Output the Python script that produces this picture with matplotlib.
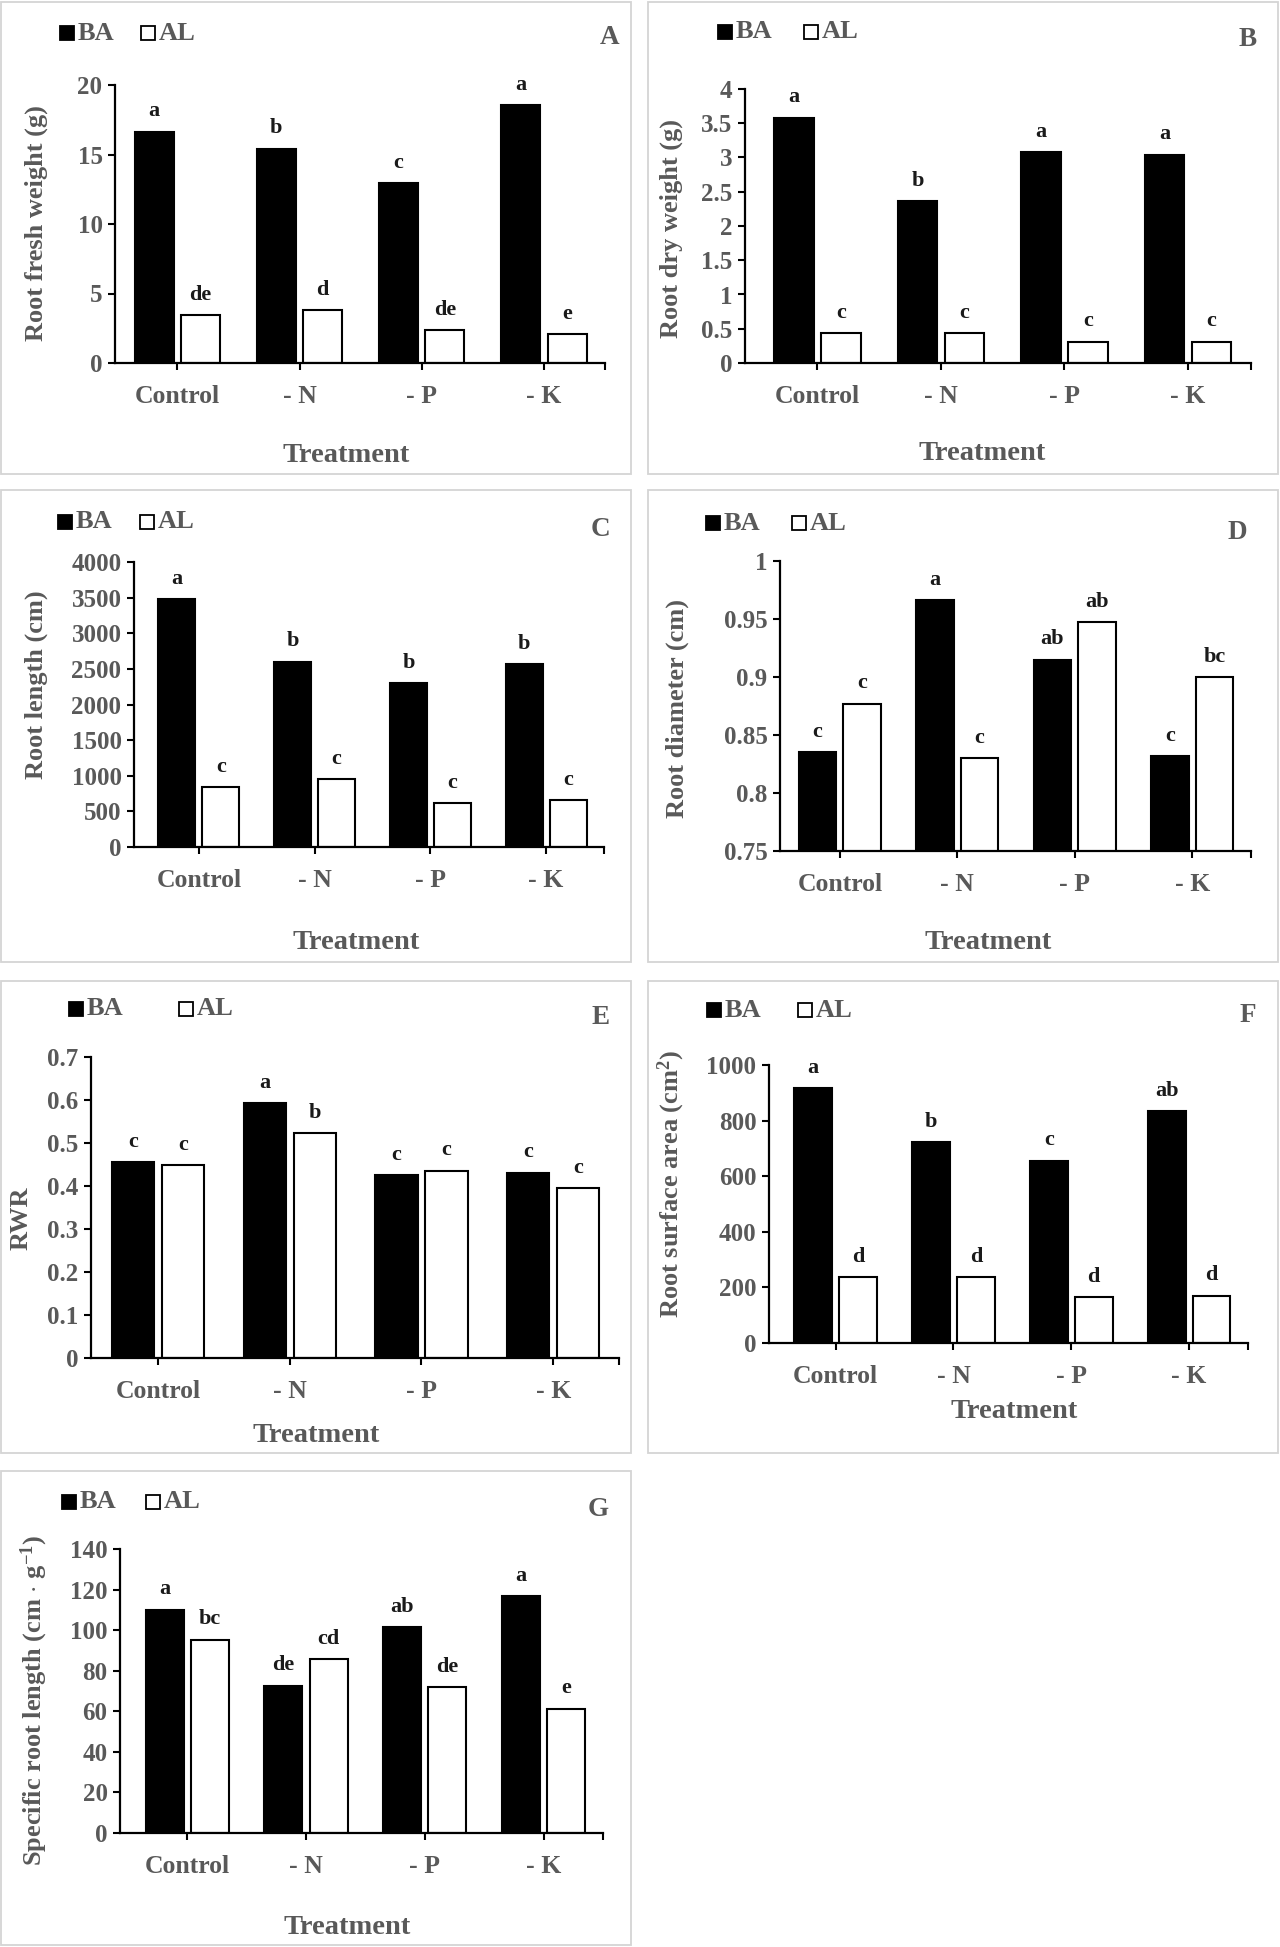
import matplotlib
matplotlib.use("Agg")
import matplotlib.pyplot as plt
from matplotlib.patches import Rectangle
import numpy as np

plt.rcParams['font.family'] = ['Liberation Serif', 'DejaVu Serif']
plt.rcParams['font.weight'] = 'bold'
plt.rcParams['mathtext.fontset'] = 'custom'
plt.rcParams['mathtext.rm'] = 'Liberation Serif:bold'
plt.rcParams['mathtext.bf'] = 'Liberation Serif:bold'
plt.rcParams['mathtext.it'] = 'Liberation Serif:bold:italic'

# ---------------- data ----------------
treatments = ["Control", "- N", "- P", "- K"]
series_names = ["BA", "AL"]

fresh_ba = [16.65, 15.43, 12.94, 18.56]
fresh_al = [3.44, 3.78, 2.39, 2.10]
fresh_ba_sig = ["a", "b", "c", "a"]
fresh_al_sig = ["de", "d", "de", "e"]

dry_ba = [3.58, 2.36, 3.08, 3.04]
dry_al = [0.44, 0.44, 0.31, 0.31]
dry_ba_sig = ["a", "b", "a", "a"]
dry_al_sig = ["c", "c", "c", "c"]

length_ba = [3477, 2600, 2301, 2562]
length_al = [840, 952, 616, 653]
length_ba_sig = ["a", "b", "b", "b"]
length_al_sig = ["c", "c", "c", "c"]

diam_ba = [0.835, 0.966, 0.915, 0.832]
diam_al = [0.877, 0.830, 0.947, 0.900]
diam_ba_sig = ["c", "a", "ab", "c"]
diam_al_sig = ["c", "c", "ab", "bc"]

rwr_ba = [0.456, 0.593, 0.425, 0.431]
rwr_al = [0.449, 0.523, 0.436, 0.395]
rwr_ba_sig = ["c", "a", "c", "c"]
rwr_al_sig = ["c", "b", "c", "c"]

area_ba = [916, 723, 656, 834]
area_al = [237, 237, 164, 170]
area_ba_sig = ["a", "b", "c", "ab"]
area_al_sig = ["d", "d", "d", "d"]

srl_ba = [110.1, 72.6, 101.5, 116.7]
srl_al = [95.3, 85.8, 71.8, 61.3]
srl_ba_sig = ["a", "de", "ab", "a"]
srl_al_sig = ["bc", "cd", "de", "e"]

# ---------------- layout ----------------
W, H = 1280, 1947
fig = plt.figure(figsize=(W / 100, H / 100), dpi=100)
GRAY = '#595959'

def fxy(px, py):
    return px / W, 1 - py / H

panels = [
    dict(tag="A", org=(1, 2), size=(630, 472), ax=(114, 604, 83, 361), xl=(-0.51, 3.5), ylim=(0, 20), step=5,
         ylabel="Root fresh weight (g)", ylpos=(35, 221), leg=(59, 140, 31), tpos=(345, 454), lp=(609, 35),
         ba=fresh_ba, al=fresh_al, bs=fresh_ba_sig, as_=fresh_al_sig),
    dict(tag="B", org=(648, 2), size=(630, 472), ax=(97, 603, 87, 361), xl=(-0.585, 3.51), ylim=(0, 4), step=0.5,
         ylabel="Root dry weight (g)", ylpos=(23, 226), leg=(70, 156, 30), tpos=(334, 451), lp=(600, 38),
         ba=dry_ba, al=dry_al, bs=dry_ba_sig, as_=dry_al_sig),
    dict(tag="C", org=(1, 490), size=(630, 472), ax=(133, 603, 72, 357), xl=(-0.56, 3.5), ylim=(0, 4000), step=500,
         ylabel="Root length (cm)", ylpos=(35, 195), leg=(57, 139, 32), tpos=(355, 452), lp=(599, 40),
         ba=length_ba, al=length_al, bs=length_ba_sig, as_=length_al_sig),
    dict(tag="D", org=(648, 490), size=(630, 472), ax=(132, 603, 71, 361), xl=(-0.51, 3.5), ylim=(0.75, 1.0), step=0.05,
         ylabel="Root diameter (cm)", ylpos=(29, 218), leg=(58, 144, 33), tpos=(340, 452), lp=(589, 42),
         ba=diam_ba, al=diam_al, bs=diam_ba_sig, as_=diam_al_sig),
    dict(tag="E", org=(1, 981), size=(630, 472), ax=(90, 618, 76, 377), xl=(-0.51, 3.5), ylim=(0, 0.7), step=0.1,
         ylabel="RWR", ylpos=(20, 237), leg=(68, 178, 28), tpos=(315, 454), lp=(600, 37),
         ba=rwr_ba, al=rwr_al, bs=rwr_ba_sig, as_=rwr_al_sig),
    dict(tag="F", org=(648, 981), size=(630, 472), ax=(121, 600, 84, 362), xl=(-0.566, 3.5), ylim=(0, 1000), step=200,
         ylabel="Root surface area (cm$^{2}$)", ylpos=(23, 203), leg=(59, 150, 29), tpos=(366, 430), lp=(600, 35),
         ba=area_ba, al=area_al, bs=area_ba_sig, as_=area_al_sig),
    dict(tag="G", org=(1, 1471), size=(630, 474), ax=(119, 602, 78, 362), xl=(-0.565, 3.5), ylim=(0, 140), step=20,
         ylabel="Specific root length (cm $\\cdot$ g$^{-1}$)", ylpos=(33, 229), leg=(61, 145, 31), tpos=(346, 456), lp=(597, 38),
         ba=srl_ba, al=srl_al, bs=srl_ba_sig, as_=srl_al_sig),
]

x = np.arange(len(treatments))
bw = 0.32
off = 0.19

for p in panels:
    ox, oy = p['org']
    pw, ph = p['size']
    fx0, fy0 = fxy(ox, oy + ph)
    fig.patches.append(Rectangle((fx0, fy0), pw / W, ph / H, transform=fig.transFigure,
                                 fill=False, edgecolor='#d4d4d4', linewidth=1.3))
    l, r, t, b = p['ax']
    ax = fig.add_axes([(ox + l) / W, 1 - (oy + b) / H, (r - l) / W, (b - t) / H])
    ax.bar(x - off, p['ba'], bw, color='black', edgecolor='black', linewidth=1.5, zorder=2)
    ax.bar(x + off, p['al'], bw, color='white', edgecolor='black', linewidth=1.5, zorder=2)
    ax.set_xlim(*p['xl'])
    y0, y1 = p['ylim']
    ax.set_ylim(y0, y1)
    yt = np.arange(y0, y1 + p['step'] / 2, p['step'])
    ax.set_yticks(yt)
    ax.set_yticklabels(['{:g}'.format(round(v, 4)) for v in yt])
    ax.set_xticks(list(x) + [p['xl'][1]])
    ax.set_xticklabels(treatments + [''])
    for s in ['top', 'right']:
        ax.spines[s].set_visible(False)
    for s in ['left', 'bottom']:
        ax.spines[s].set_linewidth(1.6)
        ax.spines[s].set_color('black')
    ax.tick_params(axis='y', direction='out', length=5, width=1.5, labelsize=18,
                   labelcolor=GRAY, pad=4)
    ax.tick_params(axis='x', direction='out', length=5, width=1.5, labelsize=18.5,
                   labelcolor=GRAY, pad=10.5)
    for lab in ax.get_xticklabels() + ax.get_yticklabels():
        lab.set_fontweight('bold')
    for i in range(len(treatments)):
        ax.annotate(p['bs'][i], (x[i] - off, p['ba'][i]), xytext=(0, 11), textcoords='offset points',
                    ha='center', va='baseline', fontsize=16, fontweight='bold', color='#1a1a1a',
                    annotation_clip=False)
        ax.annotate(p['as_'][i], (x[i] + off, p['al'][i]), xytext=(0, 11), textcoords='offset points',
                    ha='center', va='baseline', fontsize=16, fontweight='bold', color='#1a1a1a',
                    annotation_clip=False)
    yx, yy = p['ylpos']
    fig.text(*fxy(ox + yx, oy + yy), p['ylabel'], rotation=90, ha='center', va='center',
             fontsize=19, fontweight='bold', color=GRAY)
    tx, ty = p['tpos']
    fig.text(*fxy(ox + tx, oy + ty), "Treatment", ha='center', va='center',
             fontsize=20.5, fontweight='bold', color=GRAY)
    lx, ly = p['lp']
    fig.text(*fxy(ox + lx, oy + ly), p['tag'], ha='center', va='center',
             fontsize=19.5, fontweight='bold', color=GRAY)
    xb, xa, ly2 = p['leg']
    sq = 14
    for xs, face, name in [(xb, 'black', series_names[0]), (xa, 'white', series_names[1])]:
        rx, ry = fxy(ox + xs, oy + ly2 + sq / 2)
        fig.patches.append(Rectangle((rx, ry), sq / W, sq / H, transform=fig.transFigure,
                                     facecolor=face, edgecolor='black', linewidth=1.3))
        fig.text(*fxy(ox + xs + sq + 4, oy + ly2), name, ha='left', va='center',
                 fontsize=19, fontweight='bold', color=GRAY)

fig.savefig("out.png", dpi=100, facecolor='white')
